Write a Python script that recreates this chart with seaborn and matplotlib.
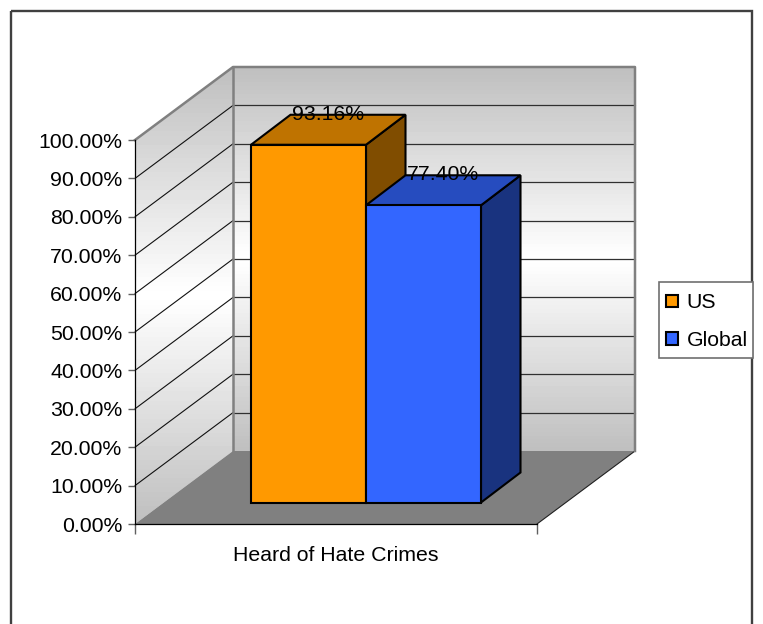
import numpy as np
import pandas as pd
import matplotlib
matplotlib.use("Agg")
import matplotlib.pyplot as plt
import seaborn as sns
from matplotlib.patches import Polygon, Rectangle

# data
CATEGORY = "Heard of Hate Crimes"
SERIES = ["US", "Global"]
VALUES = [93.16, 77.40]
Y_TICKS = [0, 10, 20, 30, 40, 50, 60, 70, 80, 90, 100]

FACE = {"US": "#ff9900", "Global": "#3366ff"}
TOP = {"US": "#bf7300", "Global": "#264cbf"}
SIDE = {"US": "#804d00", "Global": "#19337f"}

W, H = 763, 624
WALL_DX, WALL_DY = 98, -73    # depth of the chart box
BAR_DX, BAR_DY = 39.5, -30    # depth of a bar

sns.set_theme(style="white")
plt.rcParams["font.family"] = ["Liberation Sans", "DejaVu Sans"]
plt.rcParams["text.color"] = "black"
plt.rcParams["axes.labelcolor"] = "black"
plt.rcParams["xtick.color"] = "black"
plt.rcParams["ytick.color"] = "black"
FONT = 15.3


def axes_from_px(fig, left, right, top, bottom, **kw):
    return fig.add_axes([left / W, 1 - bottom / H, (right - left) / W, (bottom - top) / H], **kw)


fig = plt.figure(figsize=(W / 100, H / 100), dpi=100, facecolor="white")

# background layer, in image pixels
bg = fig.add_axes([0, 0, 1, 1])
bg.set_xlim(0, W)
bg.set_ylim(H, 0)
bg.axis("off")

# front plane: carries the value axis
front = axes_from_px(fig, 135, 537, 140, 524, facecolor="none")
front.set_ylim(0, 100)
front.set_xlim(0, 1)
front.set_yticks(Y_TICKS)
front.set_yticklabels([f"{v:.2f}%" for v in Y_TICKS], fontsize=FONT, va="center_baseline")
front.set_xticks([0, 1])
front.set_xticklabels(["", ""])
front.set_xlabel(CATEGORY, fontsize=FONT, labelpad=5)
front.tick_params(axis="y", left=True, length=5, width=1, color="#606060", pad=4)
front.tick_params(axis="x", bottom=True, length=7, width=1, color="#606060")
for name, spine in front.spines.items():
    spine.set_visible(name in ("left", "bottom"))
    spine.set_color("black")
    spine.set_linewidth(0.9)


def front_y(v):
    return H - front.transData.transform((0, v))[1]


y0, y100 = front_y(0), front_y(100)
x0, x1 = 135, 537

# gradient for the walls
ramp = np.concatenate([np.linspace(0.75, 1, 50), np.linspace(1, 0.75, 50)]).reshape(-1, 1)

back = bg.imshow(ramp, cmap="gray", vmin=0, vmax=1, aspect="auto", zorder=1,
                 extent=(x0 + WALL_DX, x1 + WALL_DX, y0 + WALL_DY, y100 + WALL_DY))
side_poly = Polygon([(x0, y0), (x0, y100), (x0 + WALL_DX, y100 + WALL_DY), (x0 + WALL_DX, y0 + WALL_DY)],
                    closed=True, transform=bg.transData, fc="none", ec="none")
bg.add_patch(side_poly)
side = bg.imshow(ramp, cmap="gray", vmin=0, vmax=1, aspect="auto", zorder=1,
                 extent=(x0, x0 + WALL_DX, y0, y100 + WALL_DY))
side.set_clip_path(side_poly)
bg.set_xlim(0, W)
bg.set_ylim(H, 0)

# floor
bg.add_patch(Polygon([(x0, y0), (x0 + WALL_DX, y0 + WALL_DY), (x1 + WALL_DX, y0 + WALL_DY), (x1, y0)],
                     closed=True, fc="#808080", ec="none", zorder=2))
bg.plot([x1, x1 + WALL_DX], [y0, y0 + WALL_DY], color="#202020", lw=0.8, zorder=3)

# grid on both walls
for v in Y_TICKS[1:-1]:
    y = front_y(v)
    bg.plot([x0, x0 + WALL_DX], [y, y + WALL_DY], color="#101010", lw=0.8, zorder=3)
    bg.plot([x0 + WALL_DX, x1 + WALL_DX], [y + WALL_DY, y + WALL_DY], color="#303030", lw=0.9, zorder=3)

# wall outlines
wall_edge = dict(color="#808080", lw=1.8, zorder=4, solid_capstyle="projecting")
bg.plot([x0, x0 + WALL_DX, x1 + WALL_DX, x1 + WALL_DX],
        [y100, y100 + WALL_DY, y100 + WALL_DY, y0 + WALL_DY], **wall_edge)
bg.plot([x0 + WALL_DX, x0 + WALL_DX], [y100 + WALL_DY, y0 + WALL_DY], **wall_edge)

# outer chart frame, bottom edge runs off the image
bg.add_patch(Rectangle((11, 11), 741, 640, fc="none", ec="#404040", lw=1.7, zorder=1))

# legend box
bg.add_patch(Rectangle((659, 282), 94, 76, fc="white", ec="#707070", lw=1.2, zorder=2))

# bars on their own plane, set back inside the box
df = pd.DataFrame({"category": [CATEGORY] * len(SERIES), "series": SERIES, "value": VALUES})
bars = axes_from_px(fig, 251, 481, 118.5, 502.5, facecolor="none")
sns.barplot(data=df, x="category", y="value", hue="series", hue_order=SERIES, palette=FACE,
            width=1, gap=0, saturation=1, edgecolor="black", linewidth=1.5, ax=bars, legend=True)
bars.set_xlim(-0.5, 0.5)
bars.set_ylim(0, 100)
bars.axis("off")

fig.canvas.draw()
for name, val, patch in zip(SERIES, VALUES, bars.containers):
    rect = patch[0]
    rect.set_clip_on(False)
    (xa, ya), (xb, yb) = bars.transData.transform(
        [(rect.get_x(), 0), (rect.get_x() + rect.get_width(), rect.get_height())])
    ya, yb = H - ya, H - yb
    edge = dict(ec="black", lw=1.5, joinstyle="miter", zorder=5)
    bg.add_patch(Polygon([(xb, yb), (xb + BAR_DX, yb + BAR_DY), (xb + BAR_DX, ya + BAR_DY), (xb, ya)],
                         closed=True, fc=SIDE[name], **edge))
    bg.add_patch(Polygon([(xa, yb), (xa + BAR_DX, yb + BAR_DY), (xb + BAR_DX, yb + BAR_DY), (xb, yb)],
                         closed=True, fc=TOP[name], **edge))
    # data label sits over the bar's top face
    bars.annotate(f"{val:.2f}%", xy=((rect.get_x() + rect.get_width() / 2), val),
                  xytext=(14, 22), textcoords="offset points", ha="center", va="center",
                  fontsize=FONT, color="black", annotation_clip=False, zorder=10)

handles, labels = bars.get_legend_handles_labels()
bars.legend(handles, labels, loc="upper left", bbox_to_anchor=(666 / W, 1 - 293.5 / H),
            bbox_transform=fig.transFigure, fontsize=FONT, frameon=False,
            borderaxespad=0, borderpad=0,
            handlelength=0.55, handleheight=0.55, handletextpad=0.42, labelspacing=0.88)

plt.savefig("out.png", dpi=100)
plt.close()
